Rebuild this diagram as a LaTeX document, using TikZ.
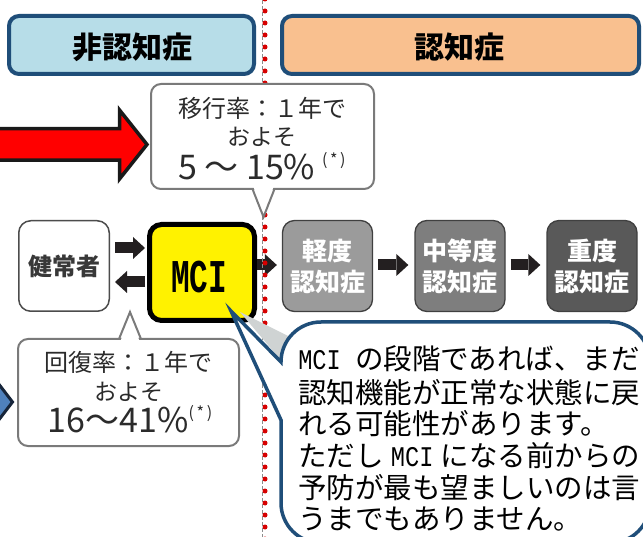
\documentclass[tikz,border=0pt]{standalone}
\usepackage{fontspec}
\usepackage{graphicx}
\setmainfont{Noto Sans CJK JP}
\newfontfamily\monofam{Liberation Mono}
\usetikzlibrary{arrows.meta,calc}
\definecolor{hdrblue}{HTML}{B7DDE8}
\definecolor{hdrorange}{HTML}{F9C08F}
\definecolor{navy}{HTML}{1F4E79}
\definecolor{callgray}{HTML}{7A7A7A}
\definecolor{txtdark}{HTML}{2B2B2B}
\definecolor{gA}{HTML}{9B9B9B}
\definecolor{gB}{HTML}{7E7E7E}
\definecolor{gC}{HTML}{595959}
\definecolor{arrowc}{HTML}{231F20}
\definecolor{dotred}{HTML}{D60000}
\definecolor{shadowg}{HTML}{CFD3D3}
\definecolor{blueA}{HTML}{4F81BD}
\definecolor{blueB}{HTML}{17253A}
\newcommand{\hwMCI}{\makebox[1.5em]{\scalebox{0.83}[1]{\monofam MCI}}}
\newcommand{\astnote}{\raisebox{0.4em}{\fontsize{16}{16}\selectfont(\,*\,)}}
\begin{document}
\begin{tikzpicture}[x=1pt,y=-1pt,
  hdr/.style={draw=navy, line width=4pt, rounded corners=10pt, inner sep=0pt},
  hdrtext/.style={inner sep=0pt, text=black, font=\fontsize{30}{30}\selectfont\bfseries},
  callbox/.style={draw=callgray, line width=2pt, rounded corners=10pt, fill=white, inner sep=0pt},
  ctext/.style={text=txtdark, inner sep=0pt},
  kbox/.style={draw=black!70, line width=1.5pt, rounded corners=12pt, fill=white, inner sep=0pt,
    minimum width=90.5pt, minimum height=90.5pt, text=black!78, font=\fontsize{24}{24}\selectfont\bfseries},
  gbox/.style={draw=black!75, line width=1.3pt, rounded corners=12pt, inner sep=0pt,
    minimum width=90pt, minimum height=91pt, text=white, align=center,
    font=\fontsize{25}{31}\selectfont\bfseries},
  blk/.style={draw=arrowc, line width=11pt, -{Triangle[length=12pt,width=22pt,line width=0pt]}},
  bubble/.style={draw=navy, line width=3.5pt, fill=white, line join=miter},
  btext/.style={anchor=base west, inner sep=0pt, text=black, font=\fontsize{28.5}{28.5}\selectfont},
]
\useasboundingbox (0,0) rectangle (643,537);
\clip (0,0) rectangle (643,537);
\fill[white] (0,0) rectangle (643,537);

% headers
\node[hdr, fill=hdrblue, minimum width=245pt, minimum height=58pt] (h1) at (131.5,45) {};
\node[hdrtext] (h1t) at (132,47) {非認知症};
\node[hdr, fill=hdrorange, minimum width=357pt, minimum height=58pt] (h2) at (460.5,45) {};
\node[hdrtext] (h2t) at (459,47) {認知症};

% big red arrow
\draw[fill=red, draw=black!90, line width=3.5pt, line join=miter]
  (-10,128.75) -- (119.5,128.75) -- (119.5,110) -- (147,144.5) -- (119.5,179) -- (119.5,160.25) -- (-10,160.25) -- cycle;

% blue arrow head at bottom left
\draw[fill=blueA, draw=blueB, line width=3pt, line join=miter]
  (-12,370) -- (12.5,402) -- (-12,434) -- cycle;

% stage nodes
\node[kbox] (kenjo) at (64,266) {健常者};
\node[draw=black, line width=5pt, fill=yellow, rounded corners=12pt, inner sep=0pt,
      minimum width=105pt, minimum height=96pt] (mci) at (202,272.5) {};
\node[inner sep=0pt] (mcitxt) at (199,277) {\scalebox{0.66}[1]{\fontsize{47}{47}\selectfont\monofam\bfseries MCI}};
\node[gbox, fill=gA] (mild) at (327.5,266) {軽度\\認知症};
\node[gbox, fill=gB] (mod) at (460,266) {中等度\\認知症};
\node[gbox, fill=gC] (sev) at (592,266) {重度\\認知症};

% connectors
\draw[blk] ($(kenjo.east)+(5,-18)$) -- ($(mci.west |- kenjo.east)+(-2,-18)$);
\draw[blk] ($(mci.west |- kenjo.east)+(-2,16)$) -- ($(kenjo.east)+(5,16)$);
\draw[blk] ($(mci.east)+(0,-7.5)$) -- ($(mild.west |- mci.east)+(-5,-7.5)$);
\draw[blk] ($(mild.east)+(5,-1)$) -- ($(mod.west)+(-6,-1)$);
\draw[blk] ($(mod.east)+(5,-1)$) -- ($(sev.west)+(-6,-1)$);

% divider
\draw[black!45, line width=0.7pt, dash pattern=on 4pt off 2pt] (262.5,0) -- (262.5,537);
\draw[dotred, line width=5pt, line cap=round, dash pattern=on 0pt off 12pt] (265,-1) -- (265,540);

% top callout
\node[callbox, minimum width=223pt, minimum height=105pt] (c1) at (262.5,136.5) {};
\fill[white] (253.5,187) -- (263.5,215) -- (273.5,187) -- cycle;
\draw[callgray, line width=2pt, line join=miter] (252.5,189) -- (263.5,217) -- (274.5,189);
\node[ctext, font=\fontsize{24}{24}\selectfont] (c1a) at (262,108) {移行率：１年で};
\node[ctext, font=\fontsize{23}{23}\selectfont] (c1b) at (262,137) {およそ};
\node[ctext] (c1c) at (262,166) {\fontsize{34}{34}\selectfont 5\hspace{0.22em}～\hspace{0.22em}15\%\hspace{0.2em}\astnote};

% bottom callout
\node[callbox, minimum width=221pt, minimum height=107pt] (c2) at (128.5,392.5) {};
\fill[white] (120.5,341) -- (130,315) -- (139.5,341) -- cycle;
\draw[callgray, line width=2pt, line join=miter] (119,339) -- (130,312) -- (141,339);
\node[ctext, font=\fontsize{24}{24}\selectfont] (c2a) at (129,362) {回復率：１年で};
\node[ctext, font=\fontsize{23}{23}\selectfont] (c2b) at (129,392) {およそ};
\node[ctext] (c2c) at (130,419) {\fontsize{34}{34}\selectfont 16～41\%\astnote};

% blue speech bubble
\fill[shadowg] (240,312) -- (290,337) -- (279,358) -- cycle;
\draw[bubble] (231,311) -- (281,362) arc[start angle=180,end angle=270,radius=40]
  -- (610,322) arc[start angle=270,end angle=360,radius=40]
  -- (650,503) arc[start angle=0,end angle=90,radius=40]
  -- (321,543) arc[start angle=90,end angle=180,radius=40]
  -- (281,420) -- cycle;
\node[btext] (b1) at (298,370) {\hwMCI\hspace{0.5em}の段階であれば、まだ};
\node[btext] (b2) at (298,403) {認知機能が正常な状態に戻};
\node[btext] (b3) at (298,435) {れる可能性があります。};
\node[btext] (b4) at (298,466) {ただし\hspace{0.25em}\hwMCI\hspace{0.25em}になる前からの};
\node[btext] (b5) at (298,498) {予防が最も望ましいのは言};
\node[btext] (b6) at (298,529) {うまでもありません。};
\end{tikzpicture}
\end{document}
